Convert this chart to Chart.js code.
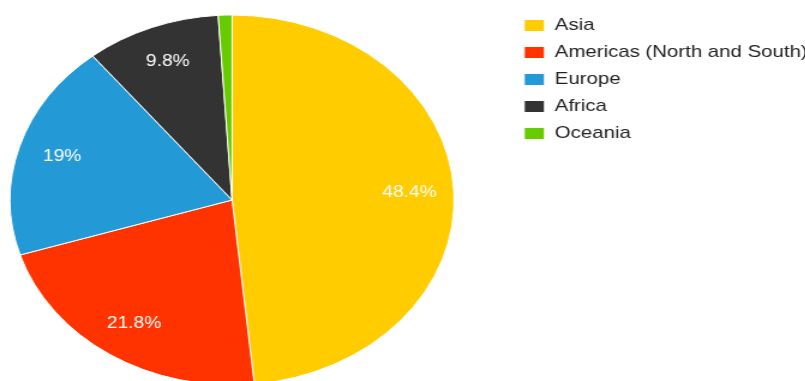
<!DOCTYPE html>
<html><head><meta charset="utf-8">
<script src="https://cdn.jsdelivr.net/npm/chart.js@4"></script>
<style>
html,body{margin:0;padding:0;background:#fff;overflow:hidden;width:805px;height:381px;}
#wrap{position:absolute;left:0;top:0;width:683px;height:400px;transform:scaleX(1.2);transform-origin:0 0;}
</style></head><body>
<div id="wrap"><canvas id="c"></canvas></div>
<script>
const categories = ['Asia', 'Americas (North and South)', 'Europe', 'Africa', 'Oceania'];
const shares = [48.4, 21.8, 19, 9.8, 1.0];
const colors = ['#FFCC00', '#FF3300', '#2399D6', '#333333', '#66CC00'];
const FONT = '"Liberation Sans", Arial, sans-serif';

const sliceLabels = {
  id: 'sliceLabels',
  afterDatasetsDraw(chart) {
    const ctx = chart.ctx;
    const meta = chart.getDatasetMeta(0);
    ctx.save();
    ctx.font = '16px ' + FONT;
    ctx.fillStyle = '#ffffff';
    ctx.textAlign = 'center';
    ctx.textBaseline = 'middle';
    meta.data.forEach((arc, i) => {
      const v = shares[i];
      if (v < 5) return;
      const p = arc.getProps(['x', 'y', 'startAngle', 'endAngle', 'outerRadius'], true);
      const mid = (p.startAngle + p.endAngle) / 2;
      const r = p.outerRadius * 0.8;
      ctx.fillText(v + '%', p.x + Math.cos(mid) * r, p.y + Math.sin(mid) * r);
    });
    ctx.restore();
  }
};

// widen the plot area leftwards so the pie sits further left, as in the original
const shiftArea = {
  id: 'shiftArea',
  afterLayout(chart) {
    chart.chartArea.left -= 40;
    chart.chartArea.width += 40;
  }
};

new Chart(document.getElementById('c'), {
  type: 'pie',
  data: {
    labels: categories,
    datasets: [{
      data: shares,
      backgroundColor: colors,
      borderColor: '#ffffff',
      borderWidth: 1,
      radius: 185
    }]
  },
  options: {
    responsive: true,
    maintainAspectRatio: false,
    animation: false,
    layout: { padding: { left: 0, top: 7, right: 0, bottom: 7 } },
    plugins: {
      tooltip: { enabled: false },
      legend: {
        position: 'right',
        align: 'start',
        labels: {
          boxWidth: 17,
          boxHeight: 12,
          padding: 10,
          color: '#222222',
          font: { size: 17, family: FONT }
        }
      }
    }
  },
  plugins: [sliceLabels, shiftArea]
});
</script>
</body></html>
